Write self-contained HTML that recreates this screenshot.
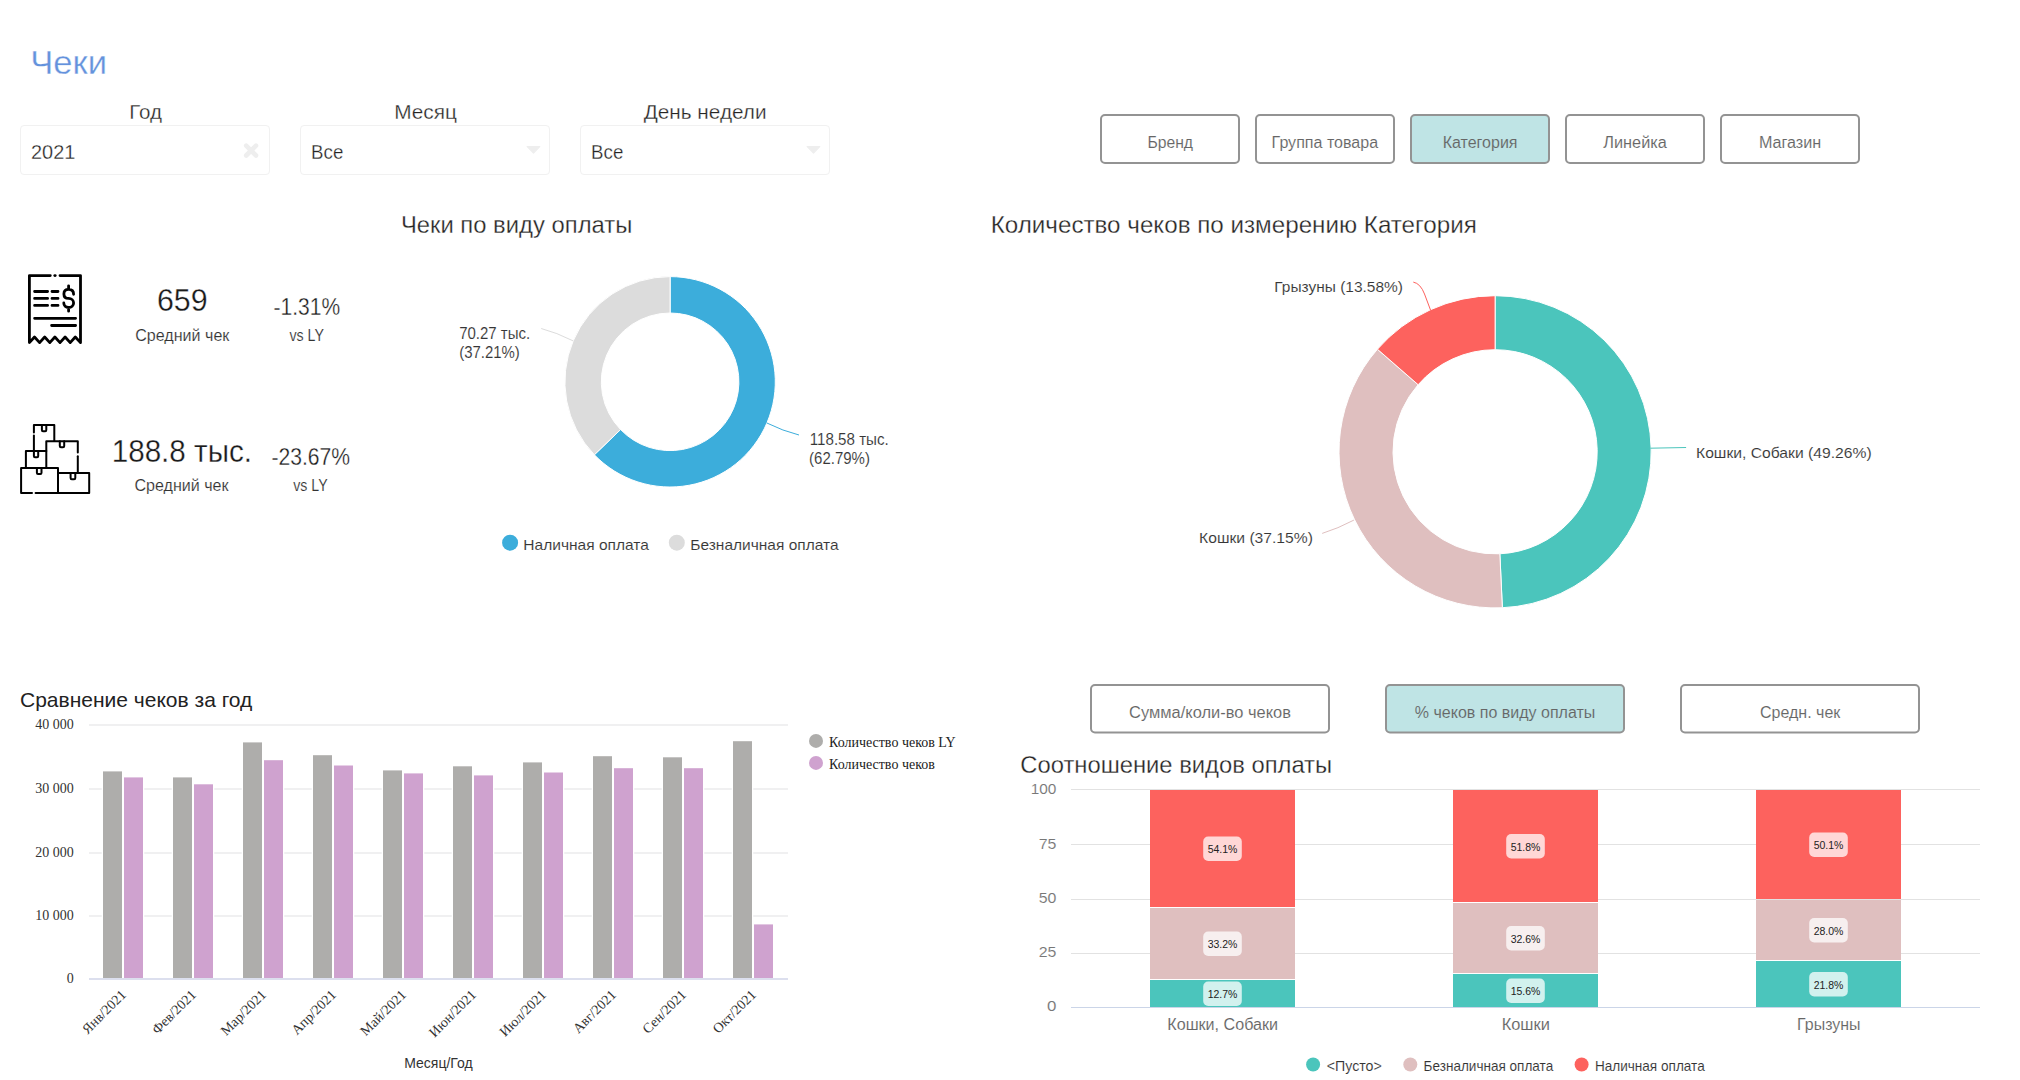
<!DOCTYPE html>
<html lang="ru"><head><meta charset="utf-8"><title>Чеки</title>
<style>
html,body{margin:0;padding:0;background:#fff;width:2020px;height:1080px;overflow:hidden}
svg{display:block;font-family:"Liberation Sans", sans-serif}
</style></head><body>
<svg width="2020" height="1080" viewBox="0 0 2020 1080">
<text x="30.3" y="74.3" font-size="34" fill="#6492DC" stroke="#fff" stroke-width="0.35" textLength="76.7" lengthAdjust="spacingAndGlyphs" font-family='"Liberation Sans", sans-serif'>Чеки</text>
<text x="129.3" y="118.8" font-size="20.5" fill="#252423" stroke="#fff" stroke-width="0.3" textLength="32.7" lengthAdjust="spacingAndGlyphs" font-family='"Liberation Sans", sans-serif'>Год</text>
<rect x="20.5" y="125.5" width="249" height="49" rx="3.5" fill="#fff" stroke="#f1f1f1"/>
<text x="31.0" y="158.8" font-size="20.5" fill="#252423" stroke="#fff" stroke-width="0.3" textLength="44.3" lengthAdjust="spacingAndGlyphs" font-family='"Liberation Sans", sans-serif'>2021</text>
<path d="M246.2,145.7 L256.0,155.5 M256.0,145.7 L246.2,155.5" stroke="#eeeeee" stroke-width="4.6" stroke-linecap="round" fill="none"/>
<text x="394.2" y="118.8" font-size="20.5" fill="#252423" stroke="#fff" stroke-width="0.3" textLength="62.7" lengthAdjust="spacingAndGlyphs" font-family='"Liberation Sans", sans-serif'>Месяц</text>
<rect x="300.5" y="125.5" width="249" height="49" rx="3.5" fill="#fff" stroke="#f1f1f1"/>
<text x="311.1" y="158.8" font-size="20.5" fill="#252423" stroke="#fff" stroke-width="0.3" textLength="32.2" lengthAdjust="spacingAndGlyphs" font-family='"Liberation Sans", sans-serif'>Все</text>
<path d="M527.2,146.5 L539.8,146.5 L533.5,153.1 Z" fill="#eeeeee" stroke="#eeeeee" stroke-width="1.2" stroke-linejoin="round"/>
<text x="643.7" y="118.8" font-size="20.5" fill="#252423" stroke="#fff" stroke-width="0.3" textLength="122.9" lengthAdjust="spacingAndGlyphs" font-family='"Liberation Sans", sans-serif'>День недели</text>
<rect x="580.5" y="125.5" width="249" height="49" rx="3.5" fill="#fff" stroke="#f1f1f1"/>
<text x="591.1" y="158.8" font-size="20.5" fill="#252423" stroke="#fff" stroke-width="0.3" textLength="32.2" lengthAdjust="spacingAndGlyphs" font-family='"Liberation Sans", sans-serif'>Все</text>
<path d="M807.2,146.5 L819.8,146.5 L813.5,153.1 Z" fill="#eeeeee" stroke="#eeeeee" stroke-width="1.2" stroke-linejoin="round"/>
<rect x="1101" y="115" width="138" height="48" rx="4" fill="#fff" stroke="#939393" stroke-width="2"/>
<text x="1147.4" y="148.2" font-size="16" fill="#666" stroke="#fff" stroke-width="0.1" textLength="45.6" lengthAdjust="spacingAndGlyphs" font-family='"Liberation Sans", sans-serif'>Бренд</text>
<rect x="1256" y="115" width="138" height="48" rx="4" fill="#fff" stroke="#939393" stroke-width="2"/>
<text x="1271.6" y="148.2" font-size="16" fill="#666" stroke="#fff" stroke-width="0.1" textLength="106.5" lengthAdjust="spacingAndGlyphs" font-family='"Liberation Sans", sans-serif'>Группа товара</text>
<rect x="1411" y="115" width="138" height="48" rx="4" fill="#BFE4E5" stroke="#939393" stroke-width="2"/>
<text x="1442.7" y="148.2" font-size="16" fill="#666" stroke="#BFE4E5" stroke-width="0.1" textLength="74.8" lengthAdjust="spacingAndGlyphs" font-family='"Liberation Sans", sans-serif'>Категория</text>
<rect x="1566" y="115" width="138" height="48" rx="4" fill="#fff" stroke="#939393" stroke-width="2"/>
<text x="1603.3" y="148.2" font-size="16" fill="#666" stroke="#fff" stroke-width="0.1" textLength="63.5" lengthAdjust="spacingAndGlyphs" font-family='"Liberation Sans", sans-serif'>Линейка</text>
<rect x="1721" y="115" width="138" height="48" rx="4" fill="#fff" stroke="#939393" stroke-width="2"/>
<text x="1758.9" y="148.2" font-size="16" fill="#666" stroke="#fff" stroke-width="0.1" textLength="62.3" lengthAdjust="spacingAndGlyphs" font-family='"Liberation Sans", sans-serif'>Магазин</text>
<text x="400.9" y="233" font-size="24.5" fill="#252423" stroke="#fff" stroke-width="0.3" textLength="231.4" lengthAdjust="spacingAndGlyphs" font-family='"Liberation Sans", sans-serif'>Чеки по виду оплаты</text>
<text x="990.7" y="233.2" font-size="24.5" fill="#252423" stroke="#fff" stroke-width="0.3" textLength="486.2" lengthAdjust="spacingAndGlyphs" font-family='"Liberation Sans", sans-serif'>Количество чеков по измерению Категория</text>
<text x="156.9" y="311.2" font-size="30.5" fill="#1a1a1a" stroke="#fff" stroke-width="0.3" textLength="50.7" lengthAdjust="spacingAndGlyphs" font-family='"Liberation Sans", sans-serif'>659</text>
<text x="135.2" y="341.2" font-size="16" fill="#333" stroke="#fff" stroke-width="0.15" textLength="94.2" lengthAdjust="spacingAndGlyphs" font-family='"Liberation Sans", sans-serif'>Средний чек</text>
<text x="273.5" y="315.1" font-size="23.5" fill="#1a1a1a" stroke="#fff" stroke-width="0.3" textLength="66.6" lengthAdjust="spacingAndGlyphs" font-family='"Liberation Sans", sans-serif'>-1.31%</text>
<text x="289.4" y="341.2" font-size="16" fill="#333" stroke="#fff" stroke-width="0.15" textLength="34.5" lengthAdjust="spacingAndGlyphs" font-family='"Liberation Sans", sans-serif'>vs LY</text>
<text x="111.7" y="462" font-size="30.5" fill="#1a1a1a" stroke="#fff" stroke-width="0.3" textLength="140.3" lengthAdjust="spacingAndGlyphs" font-family='"Liberation Sans", sans-serif'>188.8 тыс.</text>
<text x="134.4" y="491.2" font-size="16" fill="#333" stroke="#fff" stroke-width="0.15" textLength="94.2" lengthAdjust="spacingAndGlyphs" font-family='"Liberation Sans", sans-serif'>Средний чек</text>
<text x="271.4" y="464.8" font-size="23.5" fill="#1a1a1a" stroke="#fff" stroke-width="0.3" textLength="78.6" lengthAdjust="spacingAndGlyphs" font-family='"Liberation Sans", sans-serif'>-23.67%</text>
<text x="293.2" y="491.2" font-size="16" fill="#333" stroke="#fff" stroke-width="0.15" textLength="34.4" lengthAdjust="spacingAndGlyphs" font-family='"Liberation Sans", sans-serif'>vs LY</text>
<g fill="none" stroke="#000" stroke-width="2.8" stroke-linecap="round" stroke-linejoin="round">
<path d="M50.3,275.6 H29.4 V342.6 L34.5,337 L39.6,342.6 L44.7,337 L49.8,342.6 L54.9,337 L60,342.6 L65.1,337 L70.2,342.6 L75.3,337 L80.5,342.6 V275.6 H60"/>
<path d="M54.8,275.6 H55.2"/>
<path d="M34.6,291.5 H47.6 M34.6,298.4 H47.6 M34.6,305.4 H47.6 M52,291.5 H58 M52,298.4 H58 M52,305.4 H58"/>
<path d="M34.6,318.3 H75.6 M51.6,325.5 H75.6"/>
<path d="M73.6,294.3 C73.6,291.2 71.5,289.4 68.6,289.4 C65.7,289.4 63.9,291.2 63.9,293.9 C63.9,296.6 65.7,298.4 68.6,298.4 C71.5,298.4 73.6,300.3 73.6,303 C73.6,305.8 71.5,307.5 68.6,307.5 C65.7,307.5 63.8,305.8 63.8,302.9 M68.6,285.8 V289 M68.6,308 V311.2"/>
</g>
<g fill="none" stroke="#000" stroke-width="2" stroke-linecap="round" stroke-linejoin="round">
<path d="M33.9,432.4 V425 H54.3 V441"/>
<path d="M33.9,435.6 V450.6"/>
<path d="M41.9,425 V430 Q41.9,431.2 43,431.2 H45.2 Q46.3,431.2 46.3,430 V425"/>
<path d="M46.3,467.6 V441.3 H77.8 V452.6"/>
<path d="M77.8,456.2 V472.8"/>
<path d="M59.8,441.3 V446 Q59.8,447.2 61,447.2 H63 Q64.2,447.2 64.2,446 V441.3"/>
<path d="M25.9,467.6 V450.9 H46.3"/>
<path d="M33.9,450.9 V456 Q33.9,457.2 35,457.2 H37.1 Q38.2,457.2 38.2,456 V450.9"/>
<path d="M32,493 H21.1 V467.9 H58 V493"/>
<path d="M35.6,493 H89.2 V473 H58"/>
<path d="M36.9,467.9 V472.8 Q36.9,474 38,474 H40.4 Q41.5,474 41.5,472.8 V467.9"/>
<path d="M70.6,473 V478 Q70.6,479.2 71.8,479.2 H74.1 Q75.3,479.2 75.3,478 V473"/>
</g>

<path d="M670.10,276.60 A105.2,105.2 0 1 1 594.37,454.82 L620.57,429.55 A68.8,68.8 0 1 0 670.10,313.00 Z" fill="#3CADDB" stroke="#fff" stroke-width="1"/>
<path d="M594.37,454.82 A105.2,105.2 0 0 1 670.10,276.60 L670.10,313.00 A68.8,68.8 0 0 0 620.57,429.55 Z" fill="#DCDCDC" stroke="#fff" stroke-width="1"/>
<path d="M766.6,422.9 Q783,431 799,435" stroke="#3CADDB" fill="none" stroke-width="1"/>
<path d="M573.2,340.9 Q556.5,332.5 541.2,328.5" stroke="#DCDCDC" fill="none" stroke-width="1"/>
<text x="809.8" y="444.9" font-size="16" fill="#363636" stroke="#fff" stroke-width="0.1" textLength="78.9" lengthAdjust="spacingAndGlyphs" font-family='"Liberation Sans", sans-serif'>118.58 тыс.</text>
<text x="809.1" y="464" font-size="16" fill="#363636" stroke="#fff" stroke-width="0.1" textLength="60.8" lengthAdjust="spacingAndGlyphs" font-family='"Liberation Sans", sans-serif'>(62.79%)</text>
<text x="459.2" y="339" font-size="16" fill="#363636" stroke="#fff" stroke-width="0.1" textLength="71.0" lengthAdjust="spacingAndGlyphs" font-family='"Liberation Sans", sans-serif'>70.27 тыс.</text>
<text x="459.2" y="358" font-size="16" fill="#363636" stroke="#fff" stroke-width="0.1" textLength="60.6" lengthAdjust="spacingAndGlyphs" font-family='"Liberation Sans", sans-serif'>(37.21%)</text>
<circle cx="510.1" cy="542.7" r="8" fill="#3CADDB"/>
<text x="523.3" y="549.9" font-size="15.5" fill="#363636" stroke="#fff" stroke-width="0.1" textLength="125.6" lengthAdjust="spacingAndGlyphs" font-family='"Liberation Sans", sans-serif'>Наличная оплата</text>
<circle cx="676.8" cy="542.7" r="8" fill="#DCDCDC"/>
<text x="690.3" y="549.9" font-size="15.5" fill="#363636" stroke="#fff" stroke-width="0.1" textLength="148.2" lengthAdjust="spacingAndGlyphs" font-family='"Liberation Sans", sans-serif'>Безналичная оплата</text>
<path d="M1495.10,295.70 A156.1,156.1 0 0 1 1502.36,607.73 L1499.85,553.79 A102.1,102.1 0 0 0 1495.10,349.70 Z" fill="#4BC5BC" stroke="#fff" stroke-width="1"/>
<path d="M1502.36,607.73 A156.1,156.1 0 0 1 1377.43,349.23 L1418.13,384.71 A102.1,102.1 0 0 0 1499.85,553.79 Z" fill="#DFBFBF" stroke="#fff" stroke-width="1"/>
<path d="M1377.43,349.23 A156.1,156.1 0 0 1 1495.10,295.70 L1495.10,349.70 A102.1,102.1 0 0 0 1418.13,384.71 Z" fill="#FD625E" stroke="#fff" stroke-width="1"/>
<path d="M1650.5,448.2 L1686.1,447.5" stroke="#4BC5BC" fill="none" stroke-width="1"/>
<path d="M1353.9,520.1 Q1338,528.5 1322.2,533.4" stroke="#DFBFBF" fill="none" stroke-width="1"/>
<path d="M1430.5,310 L1424.5,294 Q1420.5,283.5 1413.3,282.1" stroke="#FD625E" fill="none" stroke-width="1"/>
<text x="1696.0" y="457.8" font-size="15.5" fill="#363636" stroke="#fff" stroke-width="0.1" textLength="175.6" lengthAdjust="spacingAndGlyphs" font-family='"Liberation Sans", sans-serif'>Кошки, Собаки (49.26%)</text>
<text x="1199.1" y="542.9" font-size="15.5" fill="#363636" stroke="#fff" stroke-width="0.1" textLength="113.8" lengthAdjust="spacingAndGlyphs" font-family='"Liberation Sans", sans-serif'>Кошки (37.15%)</text>
<text x="1274.3" y="291.9" font-size="15.5" fill="#363636" stroke="#fff" stroke-width="0.1" textLength="128.6" lengthAdjust="spacingAndGlyphs" font-family='"Liberation Sans", sans-serif'>Грызуны (13.58%)</text>
<text x="20" y="707" font-size="21" fill="#222" text-anchor="start" font-family='"Liberation Sans", sans-serif' >Сравнение чеков за год</text>
<path d="M89,725 H788" stroke="#f0f0f1" stroke-width="2"/>
<text x="73.8" y="729.4" font-size="14" fill="#333" text-anchor="end" font-family='"Liberation Serif", serif' >40 000</text>
<path d="M89,789 H788" stroke="#f0f0f1" stroke-width="2"/>
<text x="73.8" y="793.4" font-size="14" fill="#333" text-anchor="end" font-family='"Liberation Serif", serif' >30 000</text>
<path d="M89,853 H788" stroke="#f0f0f1" stroke-width="2"/>
<text x="73.8" y="857.4" font-size="14" fill="#333" text-anchor="end" font-family='"Liberation Serif", serif' >20 000</text>
<path d="M89,916 H788" stroke="#f0f0f1" stroke-width="2"/>
<text x="73.8" y="920.4" font-size="14" fill="#333" text-anchor="end" font-family='"Liberation Serif", serif' >10 000</text>
<text x="73.8" y="983.4" font-size="14" fill="#333" text-anchor="end" font-family='"Liberation Serif", serif' >0</text>
<rect x="103.0" y="771.4" width="19" height="206.6" fill="#AEADAB" stroke="#fff" stroke-width="2.6" paint-order="stroke"/>
<rect x="124.0" y="777.4" width="19" height="200.6" fill="#CFA2CF" stroke="#fff" stroke-width="2.6" paint-order="stroke"/>
<text transform="translate(126.9,995.5) rotate(-45)" font-size="14" fill="#333" text-anchor="end" font-family='"Liberation Serif", serif'>Янв/2021</text>
<rect x="173.0" y="777.4" width="19" height="200.6" fill="#AEADAB" stroke="#fff" stroke-width="2.6" paint-order="stroke"/>
<rect x="194.0" y="784.3" width="19" height="193.7" fill="#CFA2CF" stroke="#fff" stroke-width="2.6" paint-order="stroke"/>
<text transform="translate(196.9,995.5) rotate(-45)" font-size="14" fill="#333" text-anchor="end" font-family='"Liberation Serif", serif'>Фев/2021</text>
<rect x="243.0" y="742.4" width="19" height="235.6" fill="#AEADAB" stroke="#fff" stroke-width="2.6" paint-order="stroke"/>
<rect x="264.0" y="760.2" width="19" height="217.8" fill="#CFA2CF" stroke="#fff" stroke-width="2.6" paint-order="stroke"/>
<text transform="translate(266.9,995.5) rotate(-45)" font-size="14" fill="#333" text-anchor="end" font-family='"Liberation Serif", serif'>Мар/2021</text>
<rect x="313.0" y="755.2" width="19" height="222.8" fill="#AEADAB" stroke="#fff" stroke-width="2.6" paint-order="stroke"/>
<rect x="334.0" y="765.5" width="19" height="212.5" fill="#CFA2CF" stroke="#fff" stroke-width="2.6" paint-order="stroke"/>
<text transform="translate(336.9,995.5) rotate(-45)" font-size="14" fill="#333" text-anchor="end" font-family='"Liberation Serif", serif'>Апр/2021</text>
<rect x="383.0" y="770.4" width="19" height="207.6" fill="#AEADAB" stroke="#fff" stroke-width="2.6" paint-order="stroke"/>
<rect x="404.0" y="773.4" width="19" height="204.6" fill="#CFA2CF" stroke="#fff" stroke-width="2.6" paint-order="stroke"/>
<text transform="translate(406.9,995.5) rotate(-45)" font-size="14" fill="#333" text-anchor="end" font-family='"Liberation Serif", serif'>Май/2021</text>
<rect x="453.0" y="766.3" width="19" height="211.7" fill="#AEADAB" stroke="#fff" stroke-width="2.6" paint-order="stroke"/>
<rect x="474.0" y="775.4" width="19" height="202.6" fill="#CFA2CF" stroke="#fff" stroke-width="2.6" paint-order="stroke"/>
<text transform="translate(476.9,995.5) rotate(-45)" font-size="14" fill="#333" text-anchor="end" font-family='"Liberation Serif", serif'>Июн/2021</text>
<rect x="523.0" y="762.4" width="19" height="215.6" fill="#AEADAB" stroke="#fff" stroke-width="2.6" paint-order="stroke"/>
<rect x="544.0" y="772.5" width="19" height="205.5" fill="#CFA2CF" stroke="#fff" stroke-width="2.6" paint-order="stroke"/>
<text transform="translate(546.9,995.5) rotate(-45)" font-size="14" fill="#333" text-anchor="end" font-family='"Liberation Serif", serif'>Июл/2021</text>
<rect x="593.0" y="756.2" width="19" height="221.8" fill="#AEADAB" stroke="#fff" stroke-width="2.6" paint-order="stroke"/>
<rect x="614.0" y="768.2" width="19" height="209.8" fill="#CFA2CF" stroke="#fff" stroke-width="2.6" paint-order="stroke"/>
<text transform="translate(616.9,995.5) rotate(-45)" font-size="14" fill="#333" text-anchor="end" font-family='"Liberation Serif", serif'>Авг/2021</text>
<rect x="663.0" y="757.3" width="19" height="220.7" fill="#AEADAB" stroke="#fff" stroke-width="2.6" paint-order="stroke"/>
<rect x="684.0" y="768.2" width="19" height="209.8" fill="#CFA2CF" stroke="#fff" stroke-width="2.6" paint-order="stroke"/>
<text transform="translate(686.9,995.5) rotate(-45)" font-size="14" fill="#333" text-anchor="end" font-family='"Liberation Serif", serif'>Сен/2021</text>
<rect x="733.0" y="741.2" width="19" height="236.8" fill="#AEADAB" stroke="#fff" stroke-width="2.6" paint-order="stroke"/>
<rect x="754.0" y="924.4" width="19" height="53.6" fill="#CFA2CF" stroke="#fff" stroke-width="2.6" paint-order="stroke"/>
<text transform="translate(756.9,995.5) rotate(-45)" font-size="14" fill="#333" text-anchor="end" font-family='"Liberation Serif", serif'>Окт/2021</text>
<path d="M89,979 H788" stroke="#dcdfee" stroke-width="2"/>
<text x="438.4" y="1068" font-size="14" fill="#333" text-anchor="middle" font-family='"Liberation Sans", sans-serif' >Месяц/Год</text>
<circle cx="816" cy="740.9" r="7" fill="#AEADAB"/>
<text x="829" y="746.9" font-size="14" fill="#222" text-anchor="start" font-family='"Liberation Serif", serif' >Количество чеков LY</text>
<circle cx="816" cy="762.9" r="7" fill="#CFA2CF"/>
<text x="829" y="768.9" font-size="14" fill="#222" text-anchor="start" font-family='"Liberation Serif", serif' >Количество чеков</text>
<rect x="1091" y="685" width="238" height="47.5" rx="4" fill="#fff" stroke="#939393" stroke-width="2"/>
<text x="1129.1" y="718.4" font-size="16" fill="#666" stroke="#fff" stroke-width="0.1" textLength="161.9" lengthAdjust="spacingAndGlyphs" font-family='"Liberation Sans", sans-serif'>Сумма/коли-во чеков</text>
<rect x="1386" y="685" width="238" height="47.5" rx="4" fill="#BFE4E5" stroke="#939393" stroke-width="2"/>
<text x="1414.8" y="718.4" font-size="16" fill="#666" stroke="#BFE4E5" stroke-width="0.1" textLength="180.5" lengthAdjust="spacingAndGlyphs" font-family='"Liberation Sans", sans-serif'>% чеков по виду оплаты</text>
<rect x="1681" y="685" width="238" height="47.5" rx="4" fill="#fff" stroke="#939393" stroke-width="2"/>
<text x="1760.0" y="718.4" font-size="16" fill="#666" stroke="#fff" stroke-width="0.1" textLength="80.3" lengthAdjust="spacingAndGlyphs" font-family='"Liberation Sans", sans-serif'>Средн. чек</text>
<text x="1020.3" y="772.6" font-size="24.5" fill="#252423" stroke="#fff" stroke-width="0.3" textLength="311.8" lengthAdjust="spacingAndGlyphs" font-family='"Liberation Sans", sans-serif'>Соотношение видов оплаты</text>
<path d="M1071,1007.5 H1980" stroke="#cbd5e8" stroke-width="1"/>
<text x="1047.0" y="1010.5" font-size="15.5" fill="#777" stroke="#fff" stroke-width="0.1" textLength="9.4" lengthAdjust="spacingAndGlyphs" font-family='"Liberation Sans", sans-serif'>0</text>
<path d="M1071,953.5 H1980" stroke="#e2e2e2" stroke-width="1"/>
<text x="1038.7" y="956.8" font-size="15.5" fill="#777" stroke="#fff" stroke-width="0.1" textLength="17.7" lengthAdjust="spacingAndGlyphs" font-family='"Liberation Sans", sans-serif'>25</text>
<path d="M1071,899.5 H1980" stroke="#e2e2e2" stroke-width="1"/>
<text x="1038.7" y="903.1" font-size="15.5" fill="#777" stroke="#fff" stroke-width="0.1" textLength="17.7" lengthAdjust="spacingAndGlyphs" font-family='"Liberation Sans", sans-serif'>50</text>
<path d="M1071,844.5 H1980" stroke="#e2e2e2" stroke-width="1"/>
<text x="1038.7" y="848.5" font-size="15.5" fill="#777" stroke="#fff" stroke-width="0.1" textLength="17.7" lengthAdjust="spacingAndGlyphs" font-family='"Liberation Sans", sans-serif'>75</text>
<path d="M1071,789.5 H1980" stroke="#e2e2e2" stroke-width="1"/>
<text x="1030.7" y="793.8" font-size="15.5" fill="#777" stroke="#fff" stroke-width="0.1" textLength="25.7" lengthAdjust="spacingAndGlyphs" font-family='"Liberation Sans", sans-serif'>100</text>
<rect x="1150" y="980.0" width="145" height="27.0" fill="#4BC5BC"/>
<rect x="1203.2" y="981.6" width="38.6" height="24.4" rx="5" fill="#fff" fill-opacity="0.75"/>
<text x="1207.7" y="998.3" font-size="11.5" fill="#222" textLength="29.7" lengthAdjust="spacingAndGlyphs" font-family='"Liberation Sans", sans-serif'>12.7%</text>
<rect x="1150" y="908.0" width="145" height="71.0" fill="#DFBFBF"/>
<rect x="1203.2" y="931.6" width="38.6" height="24.4" rx="5" fill="#fff" fill-opacity="0.75"/>
<text x="1207.7" y="948.3" font-size="11.5" fill="#222" textLength="29.7" lengthAdjust="spacingAndGlyphs" font-family='"Liberation Sans", sans-serif'>33.2%</text>
<rect x="1150" y="790.0" width="145" height="117.0" fill="#FD625E"/>
<rect x="1203.2" y="836.6" width="38.6" height="24.4" rx="5" fill="#fff" fill-opacity="0.75"/>
<text x="1207.7" y="853.3" font-size="11.5" fill="#222" textLength="29.7" lengthAdjust="spacingAndGlyphs" font-family='"Liberation Sans", sans-serif'>54.1%</text>
<text x="1167.3" y="1030" font-size="16" fill="#666" stroke="#fff" stroke-width="0.1" textLength="110.7" lengthAdjust="spacingAndGlyphs" font-family='"Liberation Sans", sans-serif'>Кошки, Собаки</text>
<rect x="1453" y="974.0" width="145" height="33.0" fill="#4BC5BC"/>
<rect x="1506.2" y="978.6" width="38.6" height="24.4" rx="5" fill="#fff" fill-opacity="0.75"/>
<text x="1510.7" y="995.3" font-size="11.5" fill="#222" textLength="29.7" lengthAdjust="spacingAndGlyphs" font-family='"Liberation Sans", sans-serif'>15.6%</text>
<rect x="1453" y="903.0" width="145" height="70.0" fill="#DFBFBF"/>
<rect x="1506.2" y="926.1" width="38.6" height="24.4" rx="5" fill="#fff" fill-opacity="0.75"/>
<text x="1510.7" y="942.8" font-size="11.5" fill="#222" textLength="29.7" lengthAdjust="spacingAndGlyphs" font-family='"Liberation Sans", sans-serif'>32.6%</text>
<rect x="1453" y="790.0" width="145" height="112.0" fill="#FD625E"/>
<rect x="1506.2" y="834.1" width="38.6" height="24.4" rx="5" fill="#fff" fill-opacity="0.75"/>
<text x="1510.7" y="850.8" font-size="11.5" fill="#222" textLength="29.7" lengthAdjust="spacingAndGlyphs" font-family='"Liberation Sans", sans-serif'>51.8%</text>
<text x="1501.7" y="1030" font-size="16" fill="#666" stroke="#fff" stroke-width="0.1" textLength="48.2" lengthAdjust="spacingAndGlyphs" font-family='"Liberation Sans", sans-serif'>Кошки</text>
<rect x="1756" y="961.0" width="145" height="46.0" fill="#4BC5BC"/>
<rect x="1809.2" y="972.1" width="38.6" height="24.4" rx="5" fill="#fff" fill-opacity="0.75"/>
<text x="1813.7" y="988.8" font-size="11.5" fill="#222" textLength="29.7" lengthAdjust="spacingAndGlyphs" font-family='"Liberation Sans", sans-serif'>21.8%</text>
<rect x="1756" y="900.0" width="145" height="60.0" fill="#DFBFBF"/>
<rect x="1809.2" y="918.1" width="38.6" height="24.4" rx="5" fill="#fff" fill-opacity="0.75"/>
<text x="1813.7" y="934.8" font-size="11.5" fill="#222" textLength="29.7" lengthAdjust="spacingAndGlyphs" font-family='"Liberation Sans", sans-serif'>28.0%</text>
<rect x="1756" y="790.0" width="145" height="109.0" fill="#FD625E"/>
<rect x="1809.2" y="832.6" width="38.6" height="24.4" rx="5" fill="#fff" fill-opacity="0.75"/>
<text x="1813.7" y="849.3" font-size="11.5" fill="#222" textLength="29.7" lengthAdjust="spacingAndGlyphs" font-family='"Liberation Sans", sans-serif'>50.1%</text>
<text x="1797.1" y="1030" font-size="16" fill="#666" stroke="#fff" stroke-width="0.1" textLength="63.4" lengthAdjust="spacingAndGlyphs" font-family='"Liberation Sans", sans-serif'>Грызуны</text>
<circle cx="1313.1" cy="1064.5" r="7" fill="#4BC5BC"/>
<text x="1326.8" y="1071.3" font-size="14" fill="#333" stroke="#fff" stroke-width="0.1" textLength="55.0" lengthAdjust="spacingAndGlyphs" font-family='"Liberation Sans", sans-serif'>&lt;Пусто&gt;</text>
<circle cx="1410.3" cy="1064.5" r="7" fill="#DFBFBF"/>
<text x="1423.6" y="1071.3" font-size="14" fill="#333" stroke="#fff" stroke-width="0.1" textLength="129.6" lengthAdjust="spacingAndGlyphs" font-family='"Liberation Sans", sans-serif'>Безналичная оплата</text>
<circle cx="1581.6" cy="1064.5" r="7" fill="#FD625E"/>
<text x="1594.9" y="1071.3" font-size="14" fill="#333" stroke="#fff" stroke-width="0.1" textLength="109.8" lengthAdjust="spacingAndGlyphs" font-family='"Liberation Sans", sans-serif'>Наличная оплата</text>
</svg>
</body></html>
